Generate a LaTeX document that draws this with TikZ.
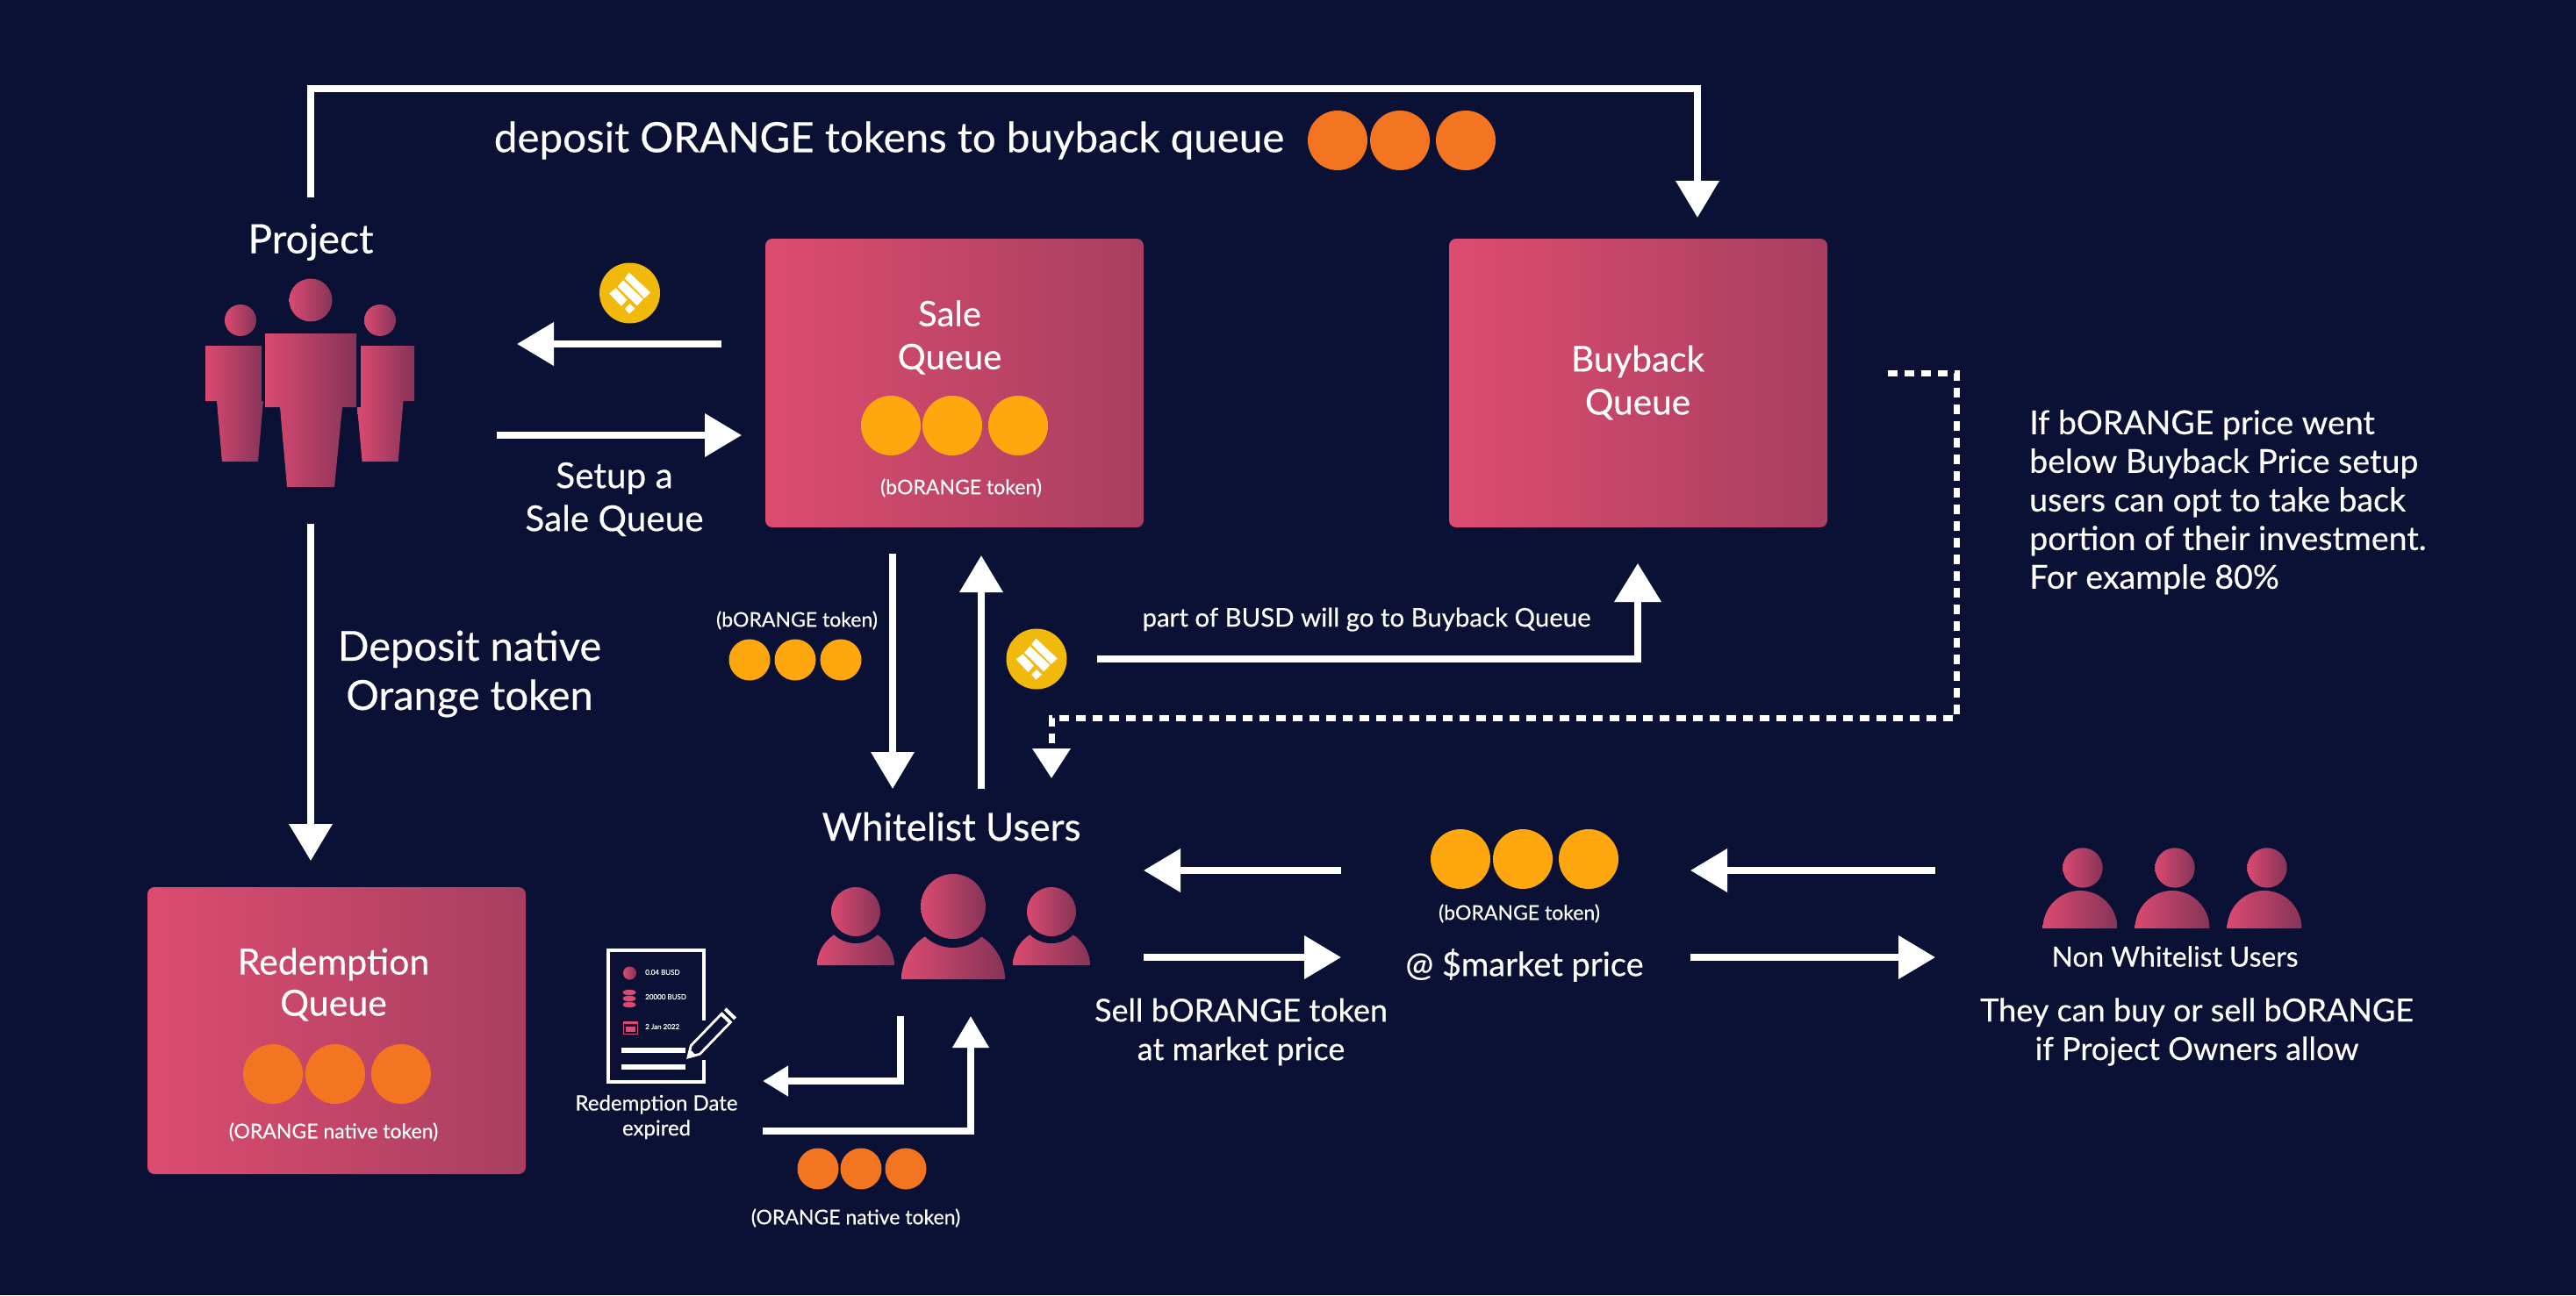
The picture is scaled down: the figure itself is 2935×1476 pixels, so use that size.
\documentclass[tikz,border=0pt]{standalone}
\usepackage{fontspec}
\setmainfont{Lato}[FakeBold=0.35]
\usetikzlibrary{arrows.meta}
\definecolor{bg}{RGB}{10,17,52}
\definecolor{boxL}{RGB}{220,76,112}
\definecolor{boxR}{RGB}{168,63,96}
\definecolor{figL}{RGB}{218,74,112}
\definecolor{figR}{RGB}{134,52,88}
\definecolor{ora}{RGB}{244,117,33}
\definecolor{yel}{RGB}{255,167,15}
\definecolor{busd}{RGB}{240,185,11}
\newcommand{\fsz}[1]{\fontsize{#1}{#1}\selectfont}
\tikzset{
  x=1pt,y=-1pt,
  wire/.style={draw=white,line width=7.3pt},
  bigtip/.style={wire,-{Triangle[length=42pt,width=48pt]}},
  midtip/.style={wire,-{Triangle[length=36pt,width=40pt]}},
  smalltip/.style={wire,-{Triangle[length=29pt,width=33pt]}},
  dashwire/.style={draw=white,line width=7pt,dash pattern=on 11pt off 8pt,-{Triangle[length=34pt,width=42pt]}},
  queue/.style={rounded corners=8pt,left color=boxL,right color=boxR,draw=none,minimum width=431pt,minimum height=329pt,inner sep=0pt},
  figshade/.style={left color=figL,right color=figR,draw=none},
  txt/.style={text=white,align=center,inner sep=0pt},
  lbl/.style={txt,font=\fsz{36}},
  small/.style={txt,font=\fsz{23}},
  coin/.style={circle,fill=#1,draw=none,inner sep=0pt,minimum size=68pt},
  scoin/.style={circle,fill=#1,draw=none,inner sep=0pt,minimum size=47pt},
}
% busd coin: #1 name, #2 position
\newcommand{\busdcoin}[2]{%
  \node[coin=busd,minimum size=69pt] (#1) at (#2) {};
  \begin{scope}[shift={(#1.center)},x=0.3333pt,y=-0.3333pt]
    \fill[white] (-17,-50) -- (-2,-70) -- (71,-2) -- (50,18) -- cycle;
    \fill[white] (-42,-22) -- (-22,-44) -- (46,21) -- (25,43) -- cycle;
    \fill[white] (-70,1) -- (-47,-17) -- (-9,23) -- (-29,45) -- cycle;
    \fill[white] (-17,53) -- (0,36) -- (18,53) -- (-2,71) -- cycle;
  \end{scope}}
% person: #1 dome cx, #2 head cx, #3 head cy, #4 head r, #5 half width, #6 top, #7 bottom, #8 ring
\newcommand{\domeperson}[8]{%
  \path[figshade] (#1-#5,#7) .. controls (#1-#5,#6+0.45*#7-0.45*#6) and (#1-0.55*#5,#6) .. (#1,#6)
     .. controls (#1+0.55*#5,#6) and (#1+#5,#6+0.45*#7-0.45*#6) .. (#1+#5,#7) -- cycle;
  \fill[bg] (#2,#3) circle (#4+#8);
  \shade[figshade] (#2,#3) circle (#4);}
\begin{document}
\begin{tikzpicture}
\useasboundingbox (0,0) rectangle (2935,1476);
\fill[bg] (0,0) rectangle (2935,1476);

% queues
\node[queue] (sale) at (1087.5,436.5) {};
\node[queue] (buyback) at (1866.5,436.5) {};
\node[queue,minimum height=327pt] (redemption) at (383.5,1174.5) {};
\node[txt,font=\fsz{40}] (saleT) at (1082,384.5) {Sale\\[9pt]Queue};
\node[txt,font=\fsz{40.5}] (buyT) at (1866,436) {Buyback\\[8.5pt]Queue};
\node[txt,font=\fsz{41}] (redT) at (380,1122) {Redemption\\[6pt]Queue};
\node[coin=yel] (s1) at (1015,485) {};
\node[coin=yel] (s2) at (1085,485) {};
\node[coin=yel] (s3) at (1160,485) {};
\node[small] (saleTok) at (1095,556) {(bORANGE token)};
\node[coin=ora] (r1) at (311,1224) {};
\node[coin=ora] (r2) at (382,1224) {};
\node[coin=ora] (r3) at (457,1224) {};
\node[small] (redTok) at (380,1290) {(ORANGE native token)};

% top
\node[coin=ora] (t1) at (1524,160) {};
\node[coin=ora] (t2) at (1595,160) {};
\node[coin=ora] (t3) at (1670,160) {};
\node[txt,font=\fsz{47.5}] (depT) at (1013,160) {deposit ORANGE tokens to buyback queue};
\coordinate (topA) at (354,225);
\coordinate (topB) at (354,101);
\coordinate (topC) at (1934,101);
\coordinate (topD) at (1934,248);
\draw[bigtip] (topA) -- (topB) -- (topC) -- (topD);

% project
\node[txt,font=\fsz{46}] (project) at (354,276) {Project};
\shade[figshade] (274,365) circle (18);
\shade[figshade] (433,365) circle (18);
\shade[figshade] (354,342) circle (24.5);
\path[figshade] (234.5,394) -- (298,394) -- (298,457) -- (300,457) -- (294,526) -- (253,526) -- (247,457) -- (234.5,457) -- cycle;
\path[figshade] (411,394) -- (472,394) -- (472,457) -- (459.5,457) -- (453.7,526) -- (412.6,526) -- (407,464) -- (411,464) -- cycle;
\path[figshade] (302,380) -- (406,380) -- (406,464) -- (390,464) -- (381,555) -- (327,555) -- (319,464) -- (302,464) -- cycle;

% project <-> sale
\busdcoin{c1}{717.5,334}
\coordinate (paA) at (822,392);
\coordinate (paB) at (589,392);
\draw[bigtip] (paA) -- (paB);
\coordinate (pbA) at (566,496);
\coordinate (pbB) at (845,496);
\draw[bigtip] (pbA) -- (pbB);
\node[txt,font=\fsz{40.5}] (setup) at (700,569) {Setup a\\[8.5pt]Sale Queue};

% project -> redemption
\coordinate (prA) at (354,597);
\coordinate (prB) at (354,981);
\draw[bigtip] (prA) -- (prB);
\node[txt,font=\fsz{47}] (depN) at (535,768) {Deposit native\\[9pt]Orange token};

% sale <-> whitelist
\coordinate (swA) at (1017,631);
\coordinate (swB) at (1017,899);
\draw[bigtip] (swA) -- (swB);
\coordinate (wsA) at (1118,899);
\coordinate (wsB) at (1118,633);
\draw[bigtip] (wsA) -- (wsB);
\node[small] (midTok) at (908,707) {(bORANGE token)};
\node[scoin=yel] (m1) at (854,752) {};
\node[scoin=yel] (m2) at (906,752) {};
\node[scoin=yel] (m3) at (958,752) {};
\busdcoin{c2}{1181,751}

% part of BUSD
\coordinate (bbA) at (1250,751);
\coordinate (bbB) at (1866,751);
\coordinate (bbC) at (1866,642);
\draw[wire,-{Triangle[length=44pt,width=52pt]}] (bbA) -- (bbB) -- (bbC);
\node[txt,font=\fsz{29.4}] (partT) at (1557,706) {part of BUSD will go to Buyback Queue};

% dashed
\coordinate (daA) at (2151,425);
\coordinate (daB) at (2229,425);
\coordinate (daC) at (2229,818);
\coordinate (daD) at (1198,818);
\coordinate (daE) at (1198,887);
\draw[dashwire] (daA) -- (daB) -- (daC) -- (daD) -- (daE);
\node[txt,align=left,anchor=north west,font=\fontsize{37.5}{44}\selectfont] (ifT) at (2312,467)
  {If bORANGE price went\\below Buyback Price setup\\users can opt to take back\\portion of their investment.\\For example 80\%};

% whitelist
\node[txt,font=\fsz{44}] (wl) at (1084,942) {Whitelist Users};
\domeperson{975}{975}{1039}{28}{44}{1058}{1100}{8}
\domeperson{1198}{1198}{1039}{28}{44}{1058}{1100}{8}
\domeperson{1086}{1086}{1033}{37}{59}{1058}{1116}{10}

% document
\draw[white,line width=4pt] (802,1163) -- (802,1083) -- (693,1083) -- (693,1233) -- (802,1233) -- (802,1208);
\draw[white,line width=6pt] (708,1197) -- (781,1197);
\draw[white,line width=6pt] (708,1216) -- (781,1216);
\shade[figshade] (717.5,1109) circle (7.5);
\fill[figL] (717,1131) ellipse (7.5 and 3.2);
\fill[figL] (717,1138) ellipse (7.5 and 3.2);
\fill[figL] (717,1145) ellipse (7.5 and 3.2);
\draw[figL,line width=1pt] (710,1164) rectangle (726,1178);
\fill[figL] (710,1164) rectangle (726,1167);
\fill[figL] (712.5,1169.5) rectangle (723.5,1176);
\node[txt,anchor=west,font=\fsz{8}] (d1) at (735,1108) {0.04 BUSD};
\node[txt,anchor=west,font=\fsz{8}] (d2) at (735,1136) {20000 BUSD};
\node[txt,anchor=west,font=\fsz{8}] (d3) at (735,1170) {2 Jan 2022};
\begin{scope}[shift={(784,1205)},rotate=46]
  \draw[white,line width=2.8pt,fill=bg,line join=miter] (0,0) -- (12,-7) -- (62,-7) -- (62,7) -- (12,7) -- cycle;
  \fill[white] (0,0) -- (8,-4.5) -- (8,4.5) -- cycle;
  \fill[white] (60,-8) rectangle (64,8);
  \fill[white] (67,-8) rectangle (71,8);
\end{scope}
\node[txt,font=\fsz{24}] (redD) at (748,1273) {Redemption Date\\[4.5pt]expired};

\coordinate (wdA) at (1026,1158);
\coordinate (wdB) at (1026,1232);
\coordinate (wdC) at (869,1232);
\draw[smalltip] (wdA) -- (wdB) -- (wdC);
\coordinate (ruA) at (869,1289);
\coordinate (ruB) at (1106,1289);
\coordinate (ruC) at (1106,1158);
\draw[midtip] (ruA) -- (ruB) -- (ruC);
\node[scoin=ora] (o1) at (932,1332) {};
\node[scoin=ora] (o2) at (981,1332) {};
\node[scoin=ora] (o3) at (1032,1332) {};
\node[small] (oraTok) at (975,1388) {(ORANGE native token)};

% market
\node[coin=yel] (k1) at (1664,979) {};
\node[coin=yel] (k2) at (1735,979) {};
\node[coin=yel] (k3) at (1810,979) {};
\node[small] (mTok) at (1731,1041) {(bORANGE token)};
\node[txt,font=\fsz{38}] (mkt) at (1737,1100) {@ \$market price};
\coordinate (a1) at (1528,992);
\coordinate (a2) at (1303,992);
\coordinate (a3) at (1303,1091);
\coordinate (a4) at (1528,1091);
\coordinate (a5) at (2205,992);
\coordinate (a6) at (1926,992);
\coordinate (a7) at (1926,1091);
\coordinate (a8) at (2205,1091);
\draw[bigtip] (a1) -- (a2);
\draw[bigtip] (a3) -- (a4);
\draw[bigtip] (a5) -- (a6);
\draw[bigtip] (a7) -- (a8);
\node[lbl] (sell) at (1414,1176) {Sell bORANGE token\\[8pt]at market price};

% non whitelist
\domeperson{2370}{2373}{989}{22.7}{42.5}{1015}{1058}{0}
\domeperson{2475}{2478}{989}{22.7}{42.5}{1015}{1058}{0}
\domeperson{2580}{2583}{989}{22.7}{42.5}{1015}{1058}{0}
\node[txt,font=\fsz{31.8}] (nw) at (2478,1090) {Non Whitelist Users};
\node[lbl] (they) at (2503,1176) {They can buy or sell bORANGE\\[8pt]if Project Owners allow};
\end{tikzpicture}
\end{document}
